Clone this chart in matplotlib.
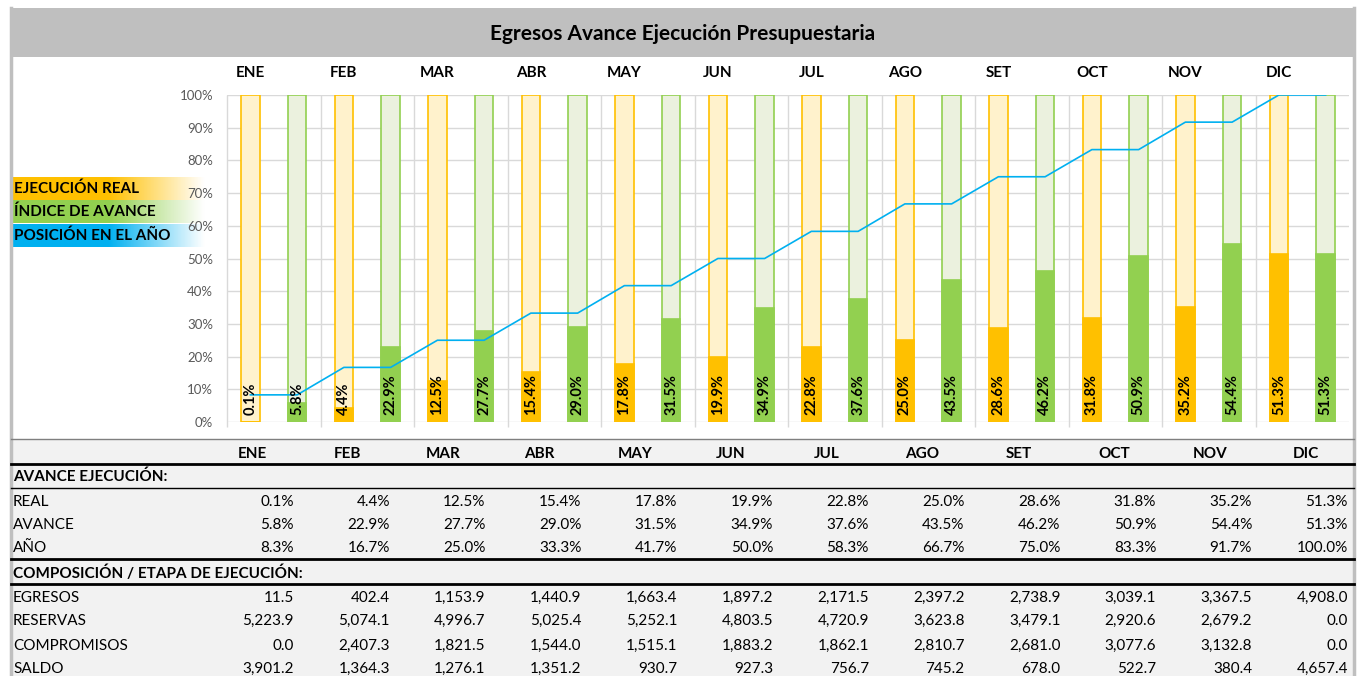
import matplotlib.pyplot as plt
import numpy as np
from matplotlib.colors import LinearSegmentedColormap

plt.rcParams['font.family'] = ['Lato', 'DejaVu Sans']

months = ["ENE", "FEB", "MAR", "ABR", "MAY", "JUN", "JUL", "AGO", "SET", "OCT", "NOV", "DIC"]
real = [0.1, 4.4, 12.5, 15.4, 17.8, 19.9, 22.8, 25.0, 28.6, 31.8, 35.2, 51.3]
avance = [5.8, 22.9, 27.7, 29.0, 31.5, 34.9, 37.6, 43.5, 46.2, 50.9, 54.4, 51.3]
anio = [8.3, 16.7, 25.0, 33.3, 41.7, 50.0, 58.3, 66.7, 75.0, 83.3, 91.7, 100.0]

egresos = [11.5, 402.4, 1153.9, 1440.9, 1663.4, 1897.2, 2171.5, 2397.2, 2738.9, 3039.1, 3367.5, 4908.0]
reservas = [5223.9, 5074.1, 4996.7, 5025.4, 5252.1, 4803.5, 4720.9, 3623.8, 3479.1, 2920.6, 2679.2, 0.0]
compromisos = [0.0, 2407.3, 1821.5, 1544.0, 1515.1, 1883.2, 1862.1, 2810.7, 2681.0, 3077.6, 3132.8, 0.0]
saldo = [3901.2, 1364.3, 1276.1, 1351.2, 930.7, 927.3, 756.7, 745.2, 678.0, 522.7, 380.4, 4657.4]

legend_labels = ["EJECUCIÓN REAL", "ÍNDICE DE AVANCE", "POSICIÓN EN EL AÑO"]

ORANGE = "#ffc000"
GREEN = "#92d050"
BLUE = "#00b0f0"

W, H = 1361, 676
fig = plt.figure(figsize=(W / 100, H / 100), dpi=100)

# overlay in pixel coordinates for frame, legend and table
bg = fig.add_axes([0, 0, 1, 1])
bg.set_xlim(0, W)
bg.set_ylim(H, 0)
bg.axis("off")

# title bar
bg.add_patch(plt.Rectangle((10, 8), 1346, 49, color="#bfbfbf", lw=0))
bg.text(683, 34, "Egresos Avance Ejecución Presupuestaria", ha="center", va="center",
        fontsize=15, fontweight="bold")

# table background
bg.add_patch(plt.Rectangle((11, 440), 1343, 236, color="#f2f2f2", lw=0))

# outer frame
bg.plot([11, 11], [8, 676], color="#bfbfbf", lw=2.5)
bg.plot([1354, 1354], [8, 676], color="#bfbfbf", lw=2.5)

# legend with gradient bands
band_colors = [ORANGE, GREEN, BLUE]
band_tops = [177, 200, 224]
for lab, col, top in zip(legend_labels, band_colors, band_tops):
    cmap = LinearSegmentedColormap.from_list("g", [col, col, "white"])
    grad = np.linspace(0, 1, 200).reshape(1, -1)
    bg.imshow(grad, cmap=cmap, aspect="auto", extent=(12, 205, top + 23, top), zorder=1)
    bg.text(14, top + 12, lab, ha="left", va="center", fontsize=11, fontweight="bold", zorder=2)
bg.set_xlim(0, W)
bg.set_ylim(H, 0)

# chart
ax = fig.add_axes([227 / W, 1 - 422 / H, 1122 / W, 327 / H])
x = np.arange(len(months))
bw = 0.2
ax.bar(x - 0.25, [1.0] * 12, bw, color="#fff2cc", edgecolor=ORANGE, lw=1.2, zorder=2)
ax.bar(x + 0.25, [1.0] * 12, bw, color="#ebf1de", edgecolor=GREEN, lw=1.2, zorder=2)
ax.bar(x - 0.25, np.array(real) / 100, bw, color=ORANGE, edgecolor=ORANGE, lw=1.2, zorder=3)
ax.bar(x + 0.25, np.array(avance) / 100, bw, color=GREEN, edgecolor=GREEN, lw=1.2, zorder=3)

lx, ly = [], []
for i, v in enumerate(anio):
    lx += [i - 0.25, i + 0.25]
    ly += [v / 100, v / 100]
ax.plot(lx, ly, color=BLUE, lw=1.2, zorder=5)

for i in range(12):
    ax.text(i - 0.25, 0.022, f"{real[i]:.1f}%", rotation=90, ha="center", va="bottom",
            fontsize=10.5, fontweight="bold", zorder=6)
    ax.text(i + 0.25, 0.022, f"{avance[i]:.1f}%", rotation=90, ha="center", va="bottom",
            fontsize=10.5, fontweight="bold", zorder=6)
    ax.text(i - 0.25, 1.068, months[i], ha="center", va="center", fontsize=11,
            fontweight="bold", clip_on=False)

ax.set_xlim(-0.5, 11.5)
ax.set_ylim(0, 1)
ax.set_yticks(np.arange(0, 1.01, 0.1))
ax.set_yticklabels([f"{int(round(t * 100))}%" for t in np.arange(0, 1.01, 0.1)])
ax.tick_params(axis="y", length=0, pad=10, labelsize=9.5, labelcolor="#595959")
ax.set_xticks([])
for t in np.arange(0, 1.01, 0.1):
    ax.axhline(t, color="#d9d9d9", lw=1, zorder=1)
ax.vlines(np.arange(-0.5, 11.0, 1.0), -0.015, 1.0, color="#d9d9d9", lw=1, zorder=1, clip_on=False)
for s in ax.spines.values():
    s.set_visible(False)
ax.patch.set_alpha(0)

# table
col_right = [294 + i * 95.8 for i in range(12)]
fs = 11

bg.plot([11, 1354], [439, 439], color="#7f7f7f", lw=1)
for m, xr in zip(months, col_right):
    bg.text(xr - 42, 454, m, ha="center", va="center", fontsize=fs, fontweight="bold")
bg.plot([11, 1354], [464, 464], color="black", lw=2)
bg.text(13, 477, "AVANCE EJECUCIÓN:", ha="left", va="center", fontsize=fs, fontweight="bold")
bg.plot([11, 1354], [488, 488], color="black", lw=1)

pct_rows = [("REAL", real, 502), ("AVANCE", avance, 525), ("AÑO", anio, 548)]
for name, vals, y in pct_rows:
    bg.text(13, y, name, ha="left", va="center", fontsize=fs)
    for v, xr in zip(vals, col_right):
        bg.text(xr, y, f"{v:.1f}%", ha="right", va="center", fontsize=fs)

bg.plot([11, 1354], [559, 559], color="black", lw=2)
bg.text(13, 573, "COMPOSICIÓN / ETAPA DE EJECUCIÓN:", ha="left", va="center", fontsize=fs,
        fontweight="bold")
bg.plot([11, 1354], [584, 584], color="black", lw=2)

num_rows = [("EGRESOS", egresos, 598), ("RESERVAS", reservas, 621),
            ("COMPROMISOS", compromisos, 646), ("SALDO", saldo, 669)]
for name, vals, y in num_rows:
    bg.text(13, y, name, ha="left", va="center", fontsize=fs)
    for v, xr in zip(vals, col_right):
        bg.text(xr, y, f"{v:,.1f}", ha="right", va="center", fontsize=fs)

plt.savefig("out.png", dpi=100)
